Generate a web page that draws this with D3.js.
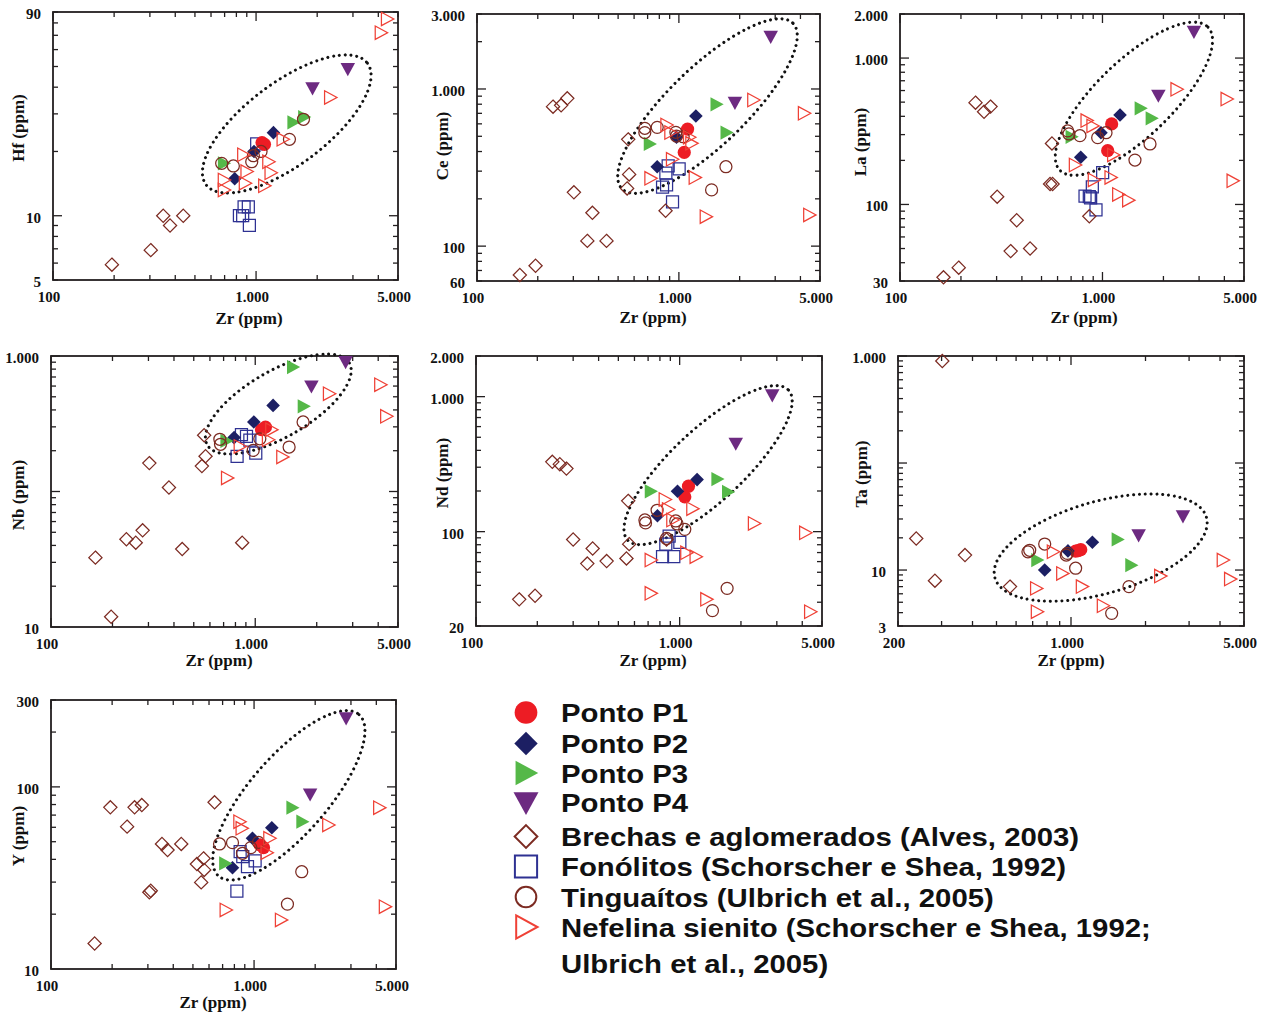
<!DOCTYPE html>
<html>
<head>
<meta charset="utf-8">
<script src="https://cdn.jsdelivr.net/npm/d3@7"></script>
<style>
  body { margin: 0; background: #fff; }
  svg { display: block; }
</style>
</head>
<body>
<svg id="chart" width="1264" height="1015"></svg>
<script>
// ---------------------------------------------------------------
// Zr versus trace elements (ppm), log-log.  Each point: [series, Zr, element]
// BR = Brechas e aglomerados, FO = Fonólitos, TG = Tinguaítos,
// NS = Nefelina sienito, P1..P4 = Pontos amostrados
// ---------------------------------------------------------------
const hfPoints = [
  ["BR",195,5.9],["BR",303,6.9],["BR",349,10],["BR",377,9.0],["BR",438,10],
  ["FO",828,10],["FO",873,11],["FO",916,11],["FO",859,10],["FO",927,9],["FO",1007,21.7],
  ["P1",1070,22],["P1",1100,21.6],
  ["P2",785,14.9],["P2",977,20],["P2",1218,24.5],
  ["P3",695,17.6],["P3",1528,27.4],["P3",1726,29],
  ["P4",1897,39.6],["P4",2830,48.7],
  ["TG",677,17.6],["TG",773,17.1],["TG",952,17.9],["TG",970,19.1],["TG",1058,20],["TG",1460,22.8],["TG",1712,28.3],
  ["NS",4420,83.5],["NS",4120,72],["NS",2320,35.8],["NS",1354,22.8],["NS",866,19.3],["NS",1151,17.9],
  ["NS",899,16.1],["NS",1181,15.9],["NS",695,14.7],["NS",882,14.2],["NS",1099,13.8],["NS",695,13.2]
];
const cePoints = [
  ["BR",163,65.5],["BR",195,75],["BR",238,772],["BR",261,787],["BR",280,872],["BR",302,220],["BR",352,108],
  ["BR",373,163],["BR",438,108],["BR",561,478],["BR",567,286],["BR",554,233],["BR",859,168],
  ["FO",885,324],["FO",862,291],["FO",1003,310],["FO",830,237],["FO",869,245],["FO",930,191],
  ["P1",1104,556],["P1",1063,395],
  ["P2",781,320],["P2",973,493],["P2",1214,673],
  ["P3",718,447],["P3",1537,799],["P3",1723,528],
  ["P4",1895,818],["P4",2850,2150],
  ["TG",678,562],["TG",678,528],["TG",781,570],["TG",966,530],["TG",973,502],["TG",1050,497],["TG",1452,228],["TG",1710,320],
  ["NS",2340,851],["NS",4170,700],["NS",4430,158],["NS",1361,154],["NS",1200,273],["NS",724,270],
  ["NS",926,357],["NS",869,590],["NS",909,528],["NS",1125,493],["NS",1155,451]
];
const laPoints = [
  ["BR",164,31.8],["BR",195,37],["BR",236,496],["BR",260,430],["BR",280,466],["BR",302,113],["BR",377,78],
  ["BR",352,48],["BR",439,50],["BR",563,261],["BR",551,138],["BR",567,138],["BR",861,83],
  ["FO",1002,165],["FO",891,132],["FO",820,114],["FO",861,113],["FO",874,111],["FO",929,92],
  ["P1",1110,355],["P1",1061,233],
  ["P2",781,210],["P2",983,309],["P2",1221,408],
  ["P3",704,290],["P3",1544,454],["P3",1750,388],
  ["P4",1888,554],["P4",2830,1515],
  ["TG",673,318],["TG",683,303],["TG",774,295],["TG",947,286],["TG",1041,309],["TG",1447,201],["TG",1717,259],
  ["NS",2325,612],["NS",4110,525],["NS",4400,145],["NS",836,374],["NS",894,344],["NS",732,186],
  ["NS",908,147],["NS",1098,153],["NS",1198,117],["NS",1342,107],["NS",1131,218]
];
const nbPoints = [
  ["BR",165,32.5],["BR",197,11.9],["BR",234,44.4],["BR",260,41.9],["BR",281,51.7],["BR",303,162],
  ["BR",378,107],["BR",439,37.6],["BR",863,41.9],["BR",548,154],["BR",571,182],["BR",562,260],
  ["FO",815,182],["FO",856,263],["FO",906,255],["FO",1006,192],["FO",941,239],
  ["P1",1073,286],["P1",1122,299],
  ["P2",788,250],["P2",984,326],["P2",1223,432],
  ["P3",723,236],["P3",1532,829],["P3",1728,425],
  ["P4",1884,597],["P4",2770,903],
  ["TG",671,243],["TG",676,223],["TG",977,201],["TG",1053,245],["TG",1465,213],["TG",1715,326],
  ["NS",4100,614],["NS",4385,359],["NS",2300,527],["NS",1359,180],["NS",729,126],["NS",1200,286],
  ["NS",1156,241],["NS",841,215]
];
const ndPoints = [
  ["BR",163,31.5],["BR",195,33.5],["BR",237,329],["BR",258,316],["BR",278,293],["BR",300,87.5],["BR",374,75],
  ["BR",352,58],["BR",438,60.5],["BR",548,63.3],["BR",559,169],["BR",565,80.8],["BR",862,87.5],
  ["FO",888,92.6],["FO",855,80.8],["FO",1002,83.2],["FO",824,65.2],["FO",936,65.2],
  ["P1",1105,217],["P1",1060,181],
  ["P2",778,131],["P2",976,199],["P2",1218,243],
  ["P3",722,199],["P3",1533,245],["P3",1729,197],
  ["P4",1886,449],["P4",2850,1023],
  ["TG",675,122],["TG",680,116],["TG",775,144],["TG",957,120],["TG",972,114],["TG",1060,104],
  ["TG",1710,38],["TG",1449,26],["TG",862,89],
  ["NS",2320,115],["NS",4140,98],["NS",4380,25.5],["NS",1354,31.5],["NS",722,34.9],["NS",722,61.6],
  ["NS",846,173],["NS",878,146],["NS",1156,148],["NS",922,122],["NS",1080,69.7],["NS",1200,65.2]
];
const taPoints = [
  ["BR",302,898],["BR",237,19.7],["BR",282,7.95],["BR",373,13.8],["BR",567,7.0],
  ["P1",1044,15],["P1",1070,15.2],["P1",1095,15.5],
  ["P2",783,10],["P2",972,15.1],["P2",1220,18.2],
  ["P3",731,12.4],["P3",1544,19.3],["P3",1753,11.1],
  ["P4",1876,21.2],["P4",2834,31.9],
  ["TG",670,14.8],["TG",681,15.3],["TG",783,17.5],["TG",957,13.8],["TG",966,14.3],["TG",1044,10.4],
  ["TG",1715,7.0],["TG",1460,3.94],
  ["NS",724,6.74],["NS",729,4.08],["NS",846,14.8],["NS",923,9.3],["NS",1108,7],["NS",1347,4.64],
  ["NS",2296,8.78],["NS",4110,12.4],["NS",4400,8.23]
];
const yPoints = [
  ["BR",164,13.8],["BR",196,77.2],["BR",237,60.5],["BR",258,77.2],["BR",280,79.5],["BR",305,26.4],
  ["BR",310,26.9],["BR",352,48.6],["BR",375,45],["BR",438,48.6],["BR",523,37.7],["BR",564,40.5],
  ["BR",568,35],["BR",549,29.9],["BR",639,82.3],
  ["FO",823,26.8],["FO",854,44.1],["FO",880,41.4],["FO",928,36.5],["FO",1012,39.3],
  ["P1",1072,48],["P1",1113,46.4],
  ["P2",783,36],["P2",982,52.2],["P2",1223,59.7],
  ["P3",721,38],["P3",1545,76.9],["P3",1730,64.4],
  ["P4",1888,91],["P4",2840,238],
  ["TG",676,48.6],["TG",783,49.4],["TG",877,43.2],["TG",964,46.4],["TG",1051,49.6],["TG",1460,22.7],["TG",1717,34.2],
  ["NS",4140,76.9],["NS",4415,22],["NS",2323,61.8],["NS",1359,18.6],["NS",726,21.1],["NS",848,64.4],
  ["NS",870,59.2],["NS",1191,52.2],["NS",1155,43.5]
];

// axis domains and labelled tick values
const zrDomain = [100, 5000];
const zrDomainTa = [200, 5000];
const zrLabels = [100, 1000, 5000];
const zrLabelsTa = [200, 1000, 5000];
const hfDomain = [5, 90],    hfLabels = [5, 10, 90];
const ceDomain = [60, 3000], ceLabels = [60, 100, 1000, 3000];
const laDomain = [30, 2000], laLabels = [30, 100, 1000, 2000];
const nbDomain = [10, 1000], nbLabels = [10, 1000];
const ndDomain = [20, 2000], ndLabels = [20, 100, 1000, 2000];
const taDomain = [3, 1000],  taLabels = [3, 10, 1000];
const yDomain = [10, 300],   yLabels = [10, 100, 300];

// centre of the dotted field around the P1-P4 samples [Zr, element]
const hfField = [1416, 26.9];
const ceField = [1386, 779];
const laField = [1430, 528];
const nbField = [1297, 442];
const ndField = [1379, 311];
const taField = [1318, 16.2];
const yField  = [1483, 89.9];

// legend
const legendKeys = ["P1","P2","P3","P4","BR","FO","TG","NS"];
const legendLabels = [
  "Ponto P1", "Ponto P2", "Ponto P3", "Ponto P4",
  "Brechas e aglomerados (Alves, 2003)",
  "Fonólitos (Schorscher e Shea, 1992)",
  "Tinguaítos (Ulbrich et al., 2005)",
  "Nefelina sienito (Schorscher e Shea, 1992;"
];
const legendContinuation = "Ulbrich et al., 2005)";

// ---------------------------------------------------------------
// styles and layout
// ---------------------------------------------------------------
const seriesStyle = {
  P1: { shape: "circle",  color: "#ed1c24", fill: true,  size: 6.6 },
  P2: { shape: "diamond", color: "#1c1f63", fill: true,  size: 6.8 },
  P3: { shape: "right",   color: "#55b848", fill: true,  size: 6.6 },
  P4: { shape: "down",    color: "#6d2a81", fill: true,  size: 6.6 },
  BR: { shape: "diamond", color: "#7c2b22", fill: false, size: 6.6 },
  FO: { shape: "square",  color: "#2e3192", fill: false, size: 6.0 },
  TG: { shape: "circle",  color: "#7c2b22", fill: false, size: 6.0 },
  NS: { shape: "right",   color: "#ef4136", fill: false, size: 6.2 }
};
const drawOrder = ["FO","BR","P1","P2","P3","P4","TG","NS"];

const shapes = {
  circle:  r => `M${r},0A${r},${r} 0 1,1 ${-r},0A${r},${r} 0 1,1 ${r},0Z`,
  diamond: r => `M0,${-r}L${r},0L0,${r}L${-r},0Z`,
  square:  r => `M${-r},${-r}H${r}V${r}H${-r}Z`,
  right:   r => `M${-r*0.92},${-r*1.08}L${r*1.08},0L${-r*0.92},${r*1.08}Z`,
  down:    r => `M${-r*1.1},${-r*0.9}L${r*1.1},${-r*0.9}L0,${r*1.1}Z`
};

const panels = [
  { title: "Hf (ppm)", pts: hfPoints, xd: zrDomain, yd: hfDomain, xl: zrLabels, yl: hfLabels, field: hfField,
    box: [53, 12, 398, 280], ell: [101, 41, 37], yt: [18, 128], xt: [249, 324] },
  { title: "Ce (ppm)", pts: cePoints, xd: zrDomain, yd: ceDomain, xl: zrLabels, yl: ceLabels, field: ceField,
    box: [477, 14, 820, 281], ell: [119, 39, 44], yt: [442, 146], xt: [653, 323] },
  { title: "La (ppm)", pts: laPoints, xd: zrDomain, yd: laDomain, xl: zrLabels, yl: laLabels, field: laField,
    box: [900, 14, 1244, 281], ell: [103, 38, 44], yt: [860, 142], xt: [1084, 323] },
  { title: "Nb (ppm)", pts: nbPoints, xd: zrDomain, yd: nbDomain, xl: zrLabels, yl: nbLabels, field: nbField,
    box: [51, 356, 398, 627], ell: [82, 33, 30], yt: [18, 495], xt: [219, 666] },
  { title: "Nd (ppm)", pts: ndPoints, xd: zrDomain, yd: ndDomain, xl: zrLabels, yl: ndLabels, field: ndField,
    box: [476, 356, 822, 626], ell: [110, 36, 43], yt: [442, 473], xt: [653, 666] },
  { title: "Ta (ppm)", pts: taPoints, xd: zrDomainTa, yd: taDomain, xl: zrLabelsTa, yl: taLabels, field: taField,
    box: [898, 356, 1244, 626], ell: [110, 46, 16], yt: [861, 474], xt: [1071, 666] },
  { title: "Y (ppm)", pts: yPoints, xd: zrDomain, yd: yDomain, xl: zrLabels, yl: yLabels, field: yField,
    box: [51, 700, 396, 969], ell: [107, 39, 49], yt: [18, 836], xt: [213, 1008] }
];

const ptBR = d3.formatLocale({ decimal: ",", thousands: ".", grouping: [3], currency: ["R$", ""] });
const fmt = ptBR.format(",d");
const serif = "'Liberation Serif', 'Times New Roman', serif";
const sans = "'Liberation Sans', Arial, sans-serif";
const frameColor = "#231f20";

const svg = d3.select("#chart");

panels.forEach(p => {
  const [x0, y0, x1, y1] = p.box;
  const x = d3.scaleLog().domain(p.xd).range([x0, x1]);
  const y = d3.scaleLog().domain(p.yd).range([y1, y0]);
  const g = svg.append("g");
  const isDecade = v => Math.abs(Math.log10(v) - Math.round(Math.log10(v))) < 1e-9;

  // inward ticks on all four sides
  const ticks = g.append("g").attr("stroke", frameColor).attr("stroke-width", 1.3);
  x.ticks().forEach(v => {
    const len = isDecade(v) ? 9 : 5;
    ticks.append("line").attr("x1", x(v)).attr("x2", x(v)).attr("y1", y1).attr("y2", y1 - len);
    ticks.append("line").attr("x1", x(v)).attr("x2", x(v)).attr("y1", y0).attr("y2", y0 + len);
  });
  y.ticks().forEach(v => {
    const len = isDecade(v) ? 9 : 5;
    ticks.append("line").attr("y1", y(v)).attr("y2", y(v)).attr("x1", x0).attr("x2", x0 + len);
    ticks.append("line").attr("y1", y(v)).attr("y2", y(v)).attr("x1", x1).attr("x2", x1 - len);
  });

  // frame
  g.append("rect").attr("x", x0).attr("y", y0).attr("width", x1 - x0).attr("height", y1 - y0)
    .attr("fill", "none").attr("stroke", frameColor).attr("stroke-width", 1.8);

  // tick labels
  g.append("g").selectAll("text").data(p.xl).join("text")
    .attr("x", v => x(v) - 4).attr("y", y1 + 22)
    .attr("text-anchor", "middle").attr("font-family", serif).attr("font-weight", "bold")
    .attr("font-size", 15).attr("fill", "#111").text(fmt);
  g.append("g").selectAll("text").data(p.yl).join("text")
    .attr("x", x0 - 12).attr("y", v => y(v) + 7)
    .attr("text-anchor", "end").attr("font-family", serif).attr("font-weight", "bold")
    .attr("font-size", 15).attr("fill", "#111").text(fmt);

  // axis titles
  g.append("text").attr("x", p.xt[0]).attr("y", p.xt[1]).attr("text-anchor", "middle")
    .attr("font-family", serif).attr("font-weight", "bold").attr("font-size", 17).attr("fill", "#111")
    .text("Zr (ppm)");
  g.append("text").attr("transform", `translate(${p.yt[0] + 6},${p.yt[1]}) rotate(-90)`)
    .attr("text-anchor", "middle")
    .attr("font-family", serif).attr("font-weight", "bold").attr("font-size", 17).attr("fill", "#111")
    .text(p.title);

  // dotted field enclosing the P1-P4 samples
  const cx = x(p.field[0]), cy = y(p.field[1]);
  g.append("ellipse").attr("cx", cx).attr("cy", cy).attr("rx", p.ell[0]).attr("ry", p.ell[1])
    .attr("transform", `rotate(${-p.ell[2]},${cx},${cy})`)
    .attr("fill", "none").attr("stroke", "#111").attr("stroke-width", 3)
    .attr("stroke-linecap", "round").attr("stroke-dasharray", "0 5.8");

  // samples
  drawOrder.forEach(key => {
    const st = seriesStyle[key];
    g.append("g").selectAll("path").data(p.pts.filter(d => d[0] === key)).join("path")
      .attr("transform", d => `translate(${x(d[1])},${y(d[2])})`)
      .attr("d", shapes[st.shape](st.size))
      .attr("fill", st.fill ? st.color : "none")
      .attr("stroke", st.fill ? "none" : st.color)
      .attr("stroke-width", 1.25);
  });
});

// legend: compact rows, text widened slightly so that the lines keep their length
const legend = svg.append("g");
const legendRowY = [712.5, 743.5, 773, 802.5, 836.5, 866.5, 897, 927];
const legendTextX = 561, legendFont = 25.5, legendStretch = 1.15;
const legendText = (str, cy) => legend.append("text")
  .attr("transform", `translate(${legendTextX},${cy + 9.5}) scale(${legendStretch},1)`)
  .attr("font-family", sans).attr("font-weight", "bold").attr("font-size", legendFont).attr("fill", "#111")
  .text(str);
legendKeys.forEach((key, i) => {
  const st = seriesStyle[key];
  const big = st.size * (key === "FO" ? 1.85 : 1.72);
  legend.append("path")
    .attr("transform", `translate(526,${legendRowY[i]})`)
    .attr("d", shapes[st.shape](big))
    .attr("fill", st.fill ? st.color : "none")
    .attr("stroke", st.fill ? "none" : st.color)
    .attr("stroke-width", 2);
  legendText(legendLabels[i], legendRowY[i]);
});
legendText(legendContinuation, 963);
</script>
</body>
</html>
